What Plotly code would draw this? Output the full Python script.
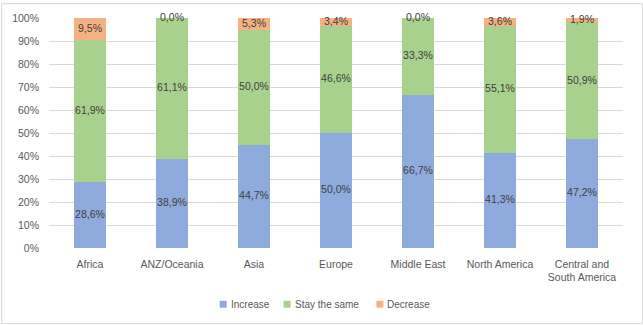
import plotly.graph_objects as go

categories = ["Africa", "ANZ/Oceania", "Asia", "Europe", "Middle East", "North America", "Central and<br>South America"]
increase = [28.6, 38.9, 44.7, 50.0, 66.7, 41.3, 47.2]
stay = [61.9, 61.1, 50.0, 46.6, 33.3, 55.1, 50.9]
decrease = [9.5, 0.0, 5.3, 3.4, 0.0, 3.6, 1.9]
series_names = ["Increase", "Stay the same", "Decrease"]
colors = ["#8faadc", "#a9d18e", "#f4b183"]
tick_vals = [0, 10, 20, 30, 40, 50, 60, 70, 80, 90, 100]

FONT = "Liberation Sans"
# plot area in pixels
L, R, T, B = 48, 623, 15, 248
PW, PH = R - L, B - T


def px(x):
    return (x - L) / PW


def py(y):
    return (B - y) / PH


fig = go.Figure()
series = [increase, stay, decrease]
for name, vals, col in zip(series_names, series, colors):
    fig.add_trace(go.Bar(x=categories, y=vals, name=name, marker_color=col,
                         marker_line_width=0, width=0.4, hoverinfo="skip", showlegend=False))

# labels at segment centers
base = [0.0] * len(categories)
for vals in series:
    mids = [b + v / 2 for b, v in zip(base, vals)]
    texts = [f"{v:.1f}%".replace(".", ",") for v in vals]
    fig.add_trace(go.Scatter(x=categories, y=mids, mode="text", text=texts, cliponaxis=False,
                             textfont=dict(family=FONT, size=10.5, color="#404040"),
                             showlegend=False, hoverinfo="skip"))
    base = [b + v for b, v in zip(base, vals)]

# manual legend (compact like the original)
shapes = [dict(type="rect", xref="paper", yref="paper", x0=-47.5 / PW, x1=1 + 19.5 / PW,
               y0=-76.5 / PH, y1=1 + 14.5 / PH, line=dict(color="#d9d9d9", width=1))]
annotations = []
leg_x = [219, 283, 376]
leg_y = 305
for name, col, x0 in zip(series_names, colors, leg_x):
    shapes.append(dict(type="rect", xref="paper", yref="paper", x0=px(x0), x1=px(x0 + 7),
                       y0=py(leg_y + 3.5), y1=py(leg_y - 3.5), fillcolor=col, line_width=0))
    annotations.append(dict(xref="paper", yref="paper", x=px(x0 + 9), y=py(leg_y), text=name,
                            showarrow=False, xanchor="left", yanchor="middle",
                            font=dict(family=FONT, size=10, color="#595959")))

fig.update_layout(
    barmode="stack",
    width=643, height=325,
    margin=dict(l=L, r=643 - R, t=T, b=325 - B),
    paper_bgcolor="white", plot_bgcolor="white",
    font=dict(family=FONT, size=10, color="#595959"),
    showlegend=False,
    shapes=shapes,
    annotations=annotations,
)
fig.update_yaxes(range=[0, 100], tickvals=tick_vals, ticktext=[f"{v}%" for v in tick_vals],
                 showgrid=True, gridcolor="#d9d9d9", gridwidth=1, zeroline=False,
                 showline=False, ticks="", ticklabelstandoff=9,
                 tickfont=dict(family=FONT, size=10.5, color="#595959"))
fig.update_xaxes(showgrid=False, showline=False, ticks="", zeroline=False, ticklabelstandoff=8,
                 tickfont=dict(family=FONT, size=10.5, color="#595959"))

fig.write_html("out.html")
